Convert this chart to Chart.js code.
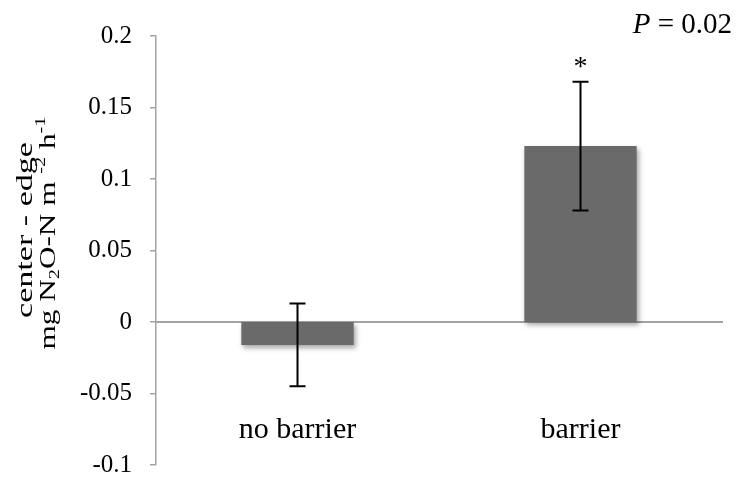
<!DOCTYPE html>
<html>
<head>
<meta charset="utf-8">
<script src="https://cdn.jsdelivr.net/npm/chart.js@4.4.1/dist/chart.umd.min.js"></script>
<style>
  body { margin: 0; background: #fff; }
  canvas { display: block; }
</style>
</head>
<body>
<canvas id="grafico" width="737" height="487"></canvas>
<script>
// dados
const categorias = ["no barrier", "barrier"];
const medias = [-0.016, 0.123];
const erros = [0.029, 0.045];
const marcas = ["", "*"];
const yMin = -0.1;
const yMax = 0.2;
const yPasso = 0.05;
const textoP = "0.02";

const serif = "'Liberation Serif', 'Times New Roman', serif";
const cinzaEixo = "#a3a3a3";

// sombra suave nas barras (estilo Excel)
const sombraBarras = {
  id: "sombraBarras",
  beforeDatasetDraw(chart) {
    const ctx = chart.ctx;
    ctx.save();
    ctx.shadowColor = "rgba(0,0,0,0.35)";
    ctx.shadowBlur = 5;
    ctx.shadowOffsetX = 2;
    ctx.shadowOffsetY = 3;
  },
  afterDatasetDraw(chart) {
    chart.ctx.restore();
  },
};

// barras de erro + asterisco
const barrasErro = {
  id: "barrasErro",
  afterDatasetsDraw(chart) {
    const ctx = chart.ctx;
    const x = chart.scales.x;
    const y = chart.scales.y;
    ctx.save();
    ctx.strokeStyle = "#000";
    ctx.lineWidth = 2;
    medias.forEach((m, i) => {
      const px = x.getPixelForValue(i);
      const topo = y.getPixelForValue(m + erros[i]);
      const base = y.getPixelForValue(m - erros[i]);
      ctx.beginPath();
      ctx.moveTo(px, topo);
      ctx.lineTo(px, base);
      ctx.moveTo(px - 8, topo);
      ctx.lineTo(px + 8, topo);
      ctx.moveTo(px - 8, base);
      ctx.lineTo(px + 8, base);
      ctx.stroke();
      if (marcas[i]) {
        ctx.fillStyle = "#000";
        ctx.font = "28px " + serif;
        ctx.textAlign = "center";
        ctx.textBaseline = "alphabetic";
        ctx.fillText(marcas[i], px, topo - 7);
      }
    });
    ctx.restore();
  },
};

// desenha texto com partes em subscrito/sobrescrito, centrado e esticado até "comprimento"
function desenhaPartes(ctx, partes, tam, comprimento) {
  let total = 0;
  partes.forEach((p) => {
    ctx.font = (p.s ? Math.round(tam * 0.65) : tam) + "px " + serif;
    total += ctx.measureText(p.t).width;
  });
  ctx.scale(comprimento / total, 1);
  let cx = -total / 2;
  partes.forEach((p) => {
    ctx.font = (p.s ? Math.round(tam * 0.65) : tam) + "px " + serif;
    const dy = p.s === "sub" ? tam * 0.18 : p.s === "sup" ? -tam * 0.45 : 0;
    ctx.fillText(p.t, cx, dy);
    cx += ctx.measureText(p.t).width;
  });
}

const textos = {
  id: "textos",
  afterDraw(chart) {
    const ctx = chart.ctx;
    ctx.save();
    ctx.fillStyle = "#000";
    ctx.textAlign = "left";
    ctx.textBaseline = "alphabetic";

    // título do eixo y, linha 1
    ctx.save();
    ctx.translate(32, 230);
    ctx.rotate(-Math.PI / 2);
    desenhaPartes(ctx, [{ t: "center - edge" }], 23, 176);
    ctx.restore();

    // linha 2
    ctx.save();
    ctx.translate(55, 233);
    ctx.rotate(-Math.PI / 2);
    desenhaPartes(
      ctx,
      [
        { t: "mg N" },
        { t: "2", s: "sub" },
        { t: "O-N m " },
        { t: "-2", s: "sup" },
        { t: " h" },
        { t: "-1", s: "sup" },
      ],
      23,
      233
    );
    ctx.restore();

    // P = 0.02
    ctx.font = "29px " + serif;
    const resto = " = " + textoP;
    const wResto = ctx.measureText(resto).width;
    ctx.font = "italic 29px " + serif;
    const wP = ctx.measureText("P").width;
    const fim = 732;
    ctx.fillText("P", fim - wResto - wP, 33);
    ctx.font = "29px " + serif;
    ctx.fillText(resto, fim - wResto, 33);
    ctx.restore();
  },
};

new Chart(document.getElementById("grafico"), {
  type: "bar",
  data: {
    labels: categorias,
    datasets: [
      {
        label: "",
        data: medias,
        backgroundColor: "#6a6a6a",
        borderWidth: 0,
        categoryPercentage: 1,
        barPercentage: 0.397,
      },
    ],
  },
  options: {
    responsive: false,
    animation: false,
    layout: { padding: { top: 36, right: 15, bottom: 22, left: 0 } },
    plugins: {
      legend: { display: false },
      tooltip: { enabled: false },
    },
    scales: {
      y: {
        min: yMin,
        max: yMax,
        afterFit(scale) {
          scale.width = 156;
          scale.paddingTop = 0;
          scale.paddingBottom = 0;
        },
        ticks: {
          stepSize: yPasso,
          color: "#000",
          padding: 18,
          font: { family: serif, size: 25 },
          callback: (v) => String(Math.round(v * 100) / 100),
        },
        grid: {
          drawOnChartArea: false,
          tickLength: 6,
          color: cinzaEixo,
          tickColor: cinzaEixo,
          lineWidth: 1.5,
        },
        border: { color: cinzaEixo, width: 1.5 },
      },
      x: {
        position: { y: 0 },
        ticks: {
          color: "#000",
          padding: 82,
          font: { family: serif, size: 30 },
        },
        grid: { display: false },
        border: { color: cinzaEixo, width: 2 },
      },
    },
  },
  plugins: [sombraBarras, barrasErro, textos],
});
</script>
</body>
</html>
